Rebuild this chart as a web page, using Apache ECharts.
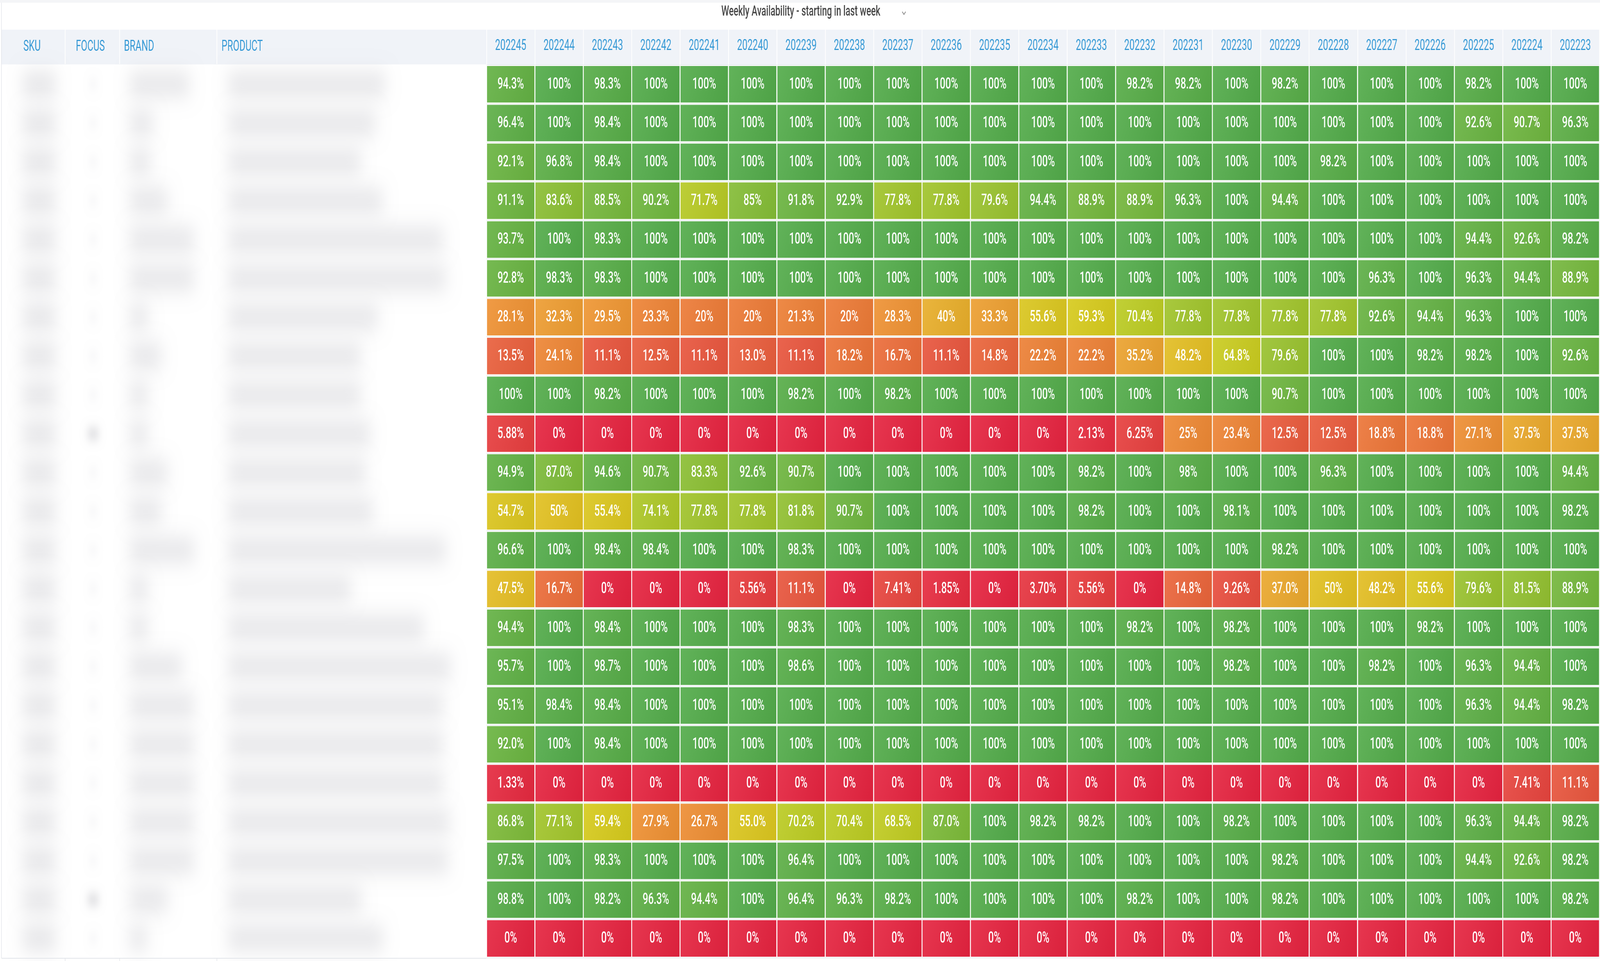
<!DOCTYPE html>
<html>
<head>
<meta charset="utf-8">
<script src="https://cdn.jsdelivr.net/npm/echarts@6/dist/echarts.min.js"></script>
<style>
html,body{margin:0;padding:0;background:#ffffff;overflow:hidden;}
#chart{width:6581px;height:2461px;transform-origin:0 0;}
</style>
</head>
<body>
<div id="chart"></div>
<script>
// ---------- data ----------
const chartTitle = 'Weekly Availability - starting in last week';
const leftHeaders = ['SKU', 'FOCUS', 'BRAND', 'PRODUCT'];
const weeks = ['202245','202244','202243','202242','202241','202240','202239','202238','202237','202236','202235','202234',
               '202233','202232','202231','202230','202229','202228','202227','202226','202225','202224','202223'];

// availability per product row (percent, as displayed)
const row01 = ['94.3','100','98.3','100','100','100','100','100','100','100','100','100','100','98.2','98.2','100','98.2','100','100','100','98.2','100','100'];
const row02 = ['96.4','100','98.4','100','100','100','100','100','100','100','100','100','100','100','100','100','100','100','100','100','92.6','90.7','96.3'];
const row03 = ['92.1','96.8','98.4','100','100','100','100','100','100','100','100','100','100','100','100','100','100','98.2','100','100','100','100','100'];
const row04 = ['91.1','83.6','88.5','90.2','71.7','85','91.8','92.9','77.8','77.8','79.6','94.4','88.9','88.9','96.3','100','94.4','100','100','100','100','100','100'];
const row05 = ['93.7','100','98.3','100','100','100','100','100','100','100','100','100','100','100','100','100','100','100','100','100','94.4','92.6','98.2'];
const row06 = ['92.8','98.3','98.3','100','100','100','100','100','100','100','100','100','100','100','100','100','100','100','96.3','100','96.3','94.4','88.9'];
const row07 = ['28.1','32.3','29.5','23.3','20','20','21.3','20','28.3','40','33.3','55.6','59.3','70.4','77.8','77.8','77.8','77.8','92.6','94.4','96.3','100','100'];
const row08 = ['13.5','24.1','11.1','12.5','11.1','13.0','11.1','18.2','16.7','11.1','14.8','22.2','22.2','35.2','48.2','64.8','79.6','100','100','98.2','98.2','100','92.6'];
const row09 = ['100','100','98.2','100','100','100','98.2','100','98.2','100','100','100','100','100','100','100','90.7','100','100','100','100','100','100'];
const row10 = ['5.88','0','0','0','0','0','0','0','0','0','0','0','2.13','6.25','25','23.4','12.5','12.5','18.8','18.8','27.1','37.5','37.5'];
const row11 = ['94.9','87.0','94.6','90.7','83.3','92.6','90.7','100','100','100','100','100','98.2','100','98','100','100','96.3','100','100','100','100','94.4'];
const row12 = ['54.7','50','55.4','74.1','77.8','77.8','81.8','90.7','100','100','100','100','98.2','100','100','98.1','100','100','100','100','100','100','98.2'];
const row13 = ['96.6','100','98.4','98.4','100','100','98.3','100','100','100','100','100','100','100','100','100','98.2','100','100','100','100','100','100'];
const row14 = ['47.5','16.7','0','0','0','5.56','11.1','0','7.41','1.85','0','3.70','5.56','0','14.8','9.26','37.0','50','48.2','55.6','79.6','81.5','88.9'];
const row15 = ['94.4','100','98.4','100','100','100','98.3','100','100','100','100','100','100','98.2','100','98.2','100','100','100','98.2','100','100','100'];
const row16 = ['95.7','100','98.7','100','100','100','98.6','100','100','100','100','100','100','100','100','98.2','100','100','98.2','100','96.3','94.4','100'];
const row17 = ['95.1','98.4','98.4','100','100','100','100','100','100','100','100','100','100','100','100','100','100','100','100','100','96.3','94.4','98.2'];
const row18 = ['92.0','100','98.4','100','100','100','100','100','100','100','100','100','100','100','100','100','100','100','100','100','100','100','100'];
const row19 = ['1.33','0','0','0','0','0','0','0','0','0','0','0','0','0','0','0','0','0','0','0','0','7.41','11.1'];
const row20 = ['86.8','77.1','59.4','27.9','26.7','55.0','70.2','70.4','68.5','87.0','100','98.2','98.2','100','100','98.2','100','100','100','100','96.3','94.4','98.2'];
const row21 = ['97.5','100','98.3','100','100','100','96.4','100','100','100','100','100','100','100','100','100','98.2','100','100','100','94.4','92.6','98.2'];
const row22 = ['98.8','100','98.2','96.3','94.4','100','96.4','96.3','98.2','100','100','100','100','98.2','100','100','98.2','100','100','100','100','100','98.2'];
const row23 = ['0','0','0','0','0','0','0','0','0','0','0','0','0','0','0','0','0','0','0','0','0','0','0'];

const rows = [row01,row02,row03,row04,row05,row06,row07,row08,row09,row10,row11,row12,
              row13,row14,row15,row16,row17,row18,row19,row20,row21,row22,row23];

// masked (blurred) text lengths in the left columns
const brandMask   = [300,150,140,210,320,320,130,185,130,130,210,185,320,130,130,270,320,320,320,320,320,210,125];
const productMask = [700,660,600,690,940,950,670,600,600,640,620,650,950,560,860,970,940,940,940,966,960,603,692];
const focusMask   = [30,30,30,30,30,30,30,30,30,60,30,30,30,30,30,30,30,30,30,30,30,60,30];

// ---------- build ----------
const DESIGN_W = 6581, DESIGN_H = 2461;
const el = document.getElementById('chart');
// the browser window may be narrower than the design size: fit the whole design into it
const sx = Math.min(1, (window.innerWidth || DESIGN_W) / DESIGN_W);
const sy = Math.min(1, (window.innerHeight || DESIGN_H) / DESIGN_H);
el.style.transform = 'scale(' + sx + ',' + sy + ')';

const cells = [];
const cellText = [];
rows.forEach(function (r, ri) {
  r.forEach(function (v, ci) {
    cells.push([ci, ri, parseFloat(v)]);
    cellText.push(v + '%');
  });
});
const rowIds = rows.map(function (_, i) { return String(i + 1); });

function parseColor(c) {
  if (c[0] === '#') {
    let h = c.slice(1);
    if (h.length === 3) h = h.split('').map(function (x) { return x + x; }).join('');
    return [parseInt(h.slice(0,2),16), parseInt(h.slice(2,4),16), parseInt(h.slice(4,6),16)];
  }
  const m = c.match(/[\d.]+/g);
  return [+m[0], +m[1], +m[2]];
}
function mix(c, t, k) {
  const a = parseColor(c), b = parseColor(t);
  return 'rgb(' + a.map(function (v, i) { return Math.round(v + (b[i] - v) * k); }).join(',') + ')';
}

const FONT = 'Roboto, "Noto Sans", sans-serif';
const HEADER_BLUE = '#379ad6';
const GRID_LEFT = 2001, GRID_TOP = 166, GRID_W = 4578, GRID_H = 2287;
const HEADER_TOP = 76, HEADER_BOTTOM = 164;
const OFF = 9000; // blurred masks: shape drawn off to the left, only its soft shadow lands in place

const chart = echarts.init(el, null, { width: DESIGN_W, height: DESIGN_H });

const option = {
  backgroundColor: '#ffffff',
  animation: false,
  title: {
    text: chartTitle,
    left: 2967, top: 13, padding: 0,
    textStyle: { fontFamily: FONT, fontSize: 36, fontWeight: 500, color: '#474747' }
  },
  grid: [
    { left: GRID_LEFT, top: GRID_TOP, width: GRID_W, height: GRID_H },
    { left: 6, top: GRID_TOP, width: GRID_LEFT - 6, height: GRID_H }
  ],
  xAxis: [
    {
      type: 'category', gridIndex: 0, data: weeks, position: 'top',
      axisLine: { show: false },
      axisTick: { show: true, length: HEADER_BOTTOM - HEADER_TOP + 2, lineStyle: { color: '#ffffff', width: 3 } },
      axisLabel: { interval: 0, margin: 48, verticalAlign: 'middle', color: HEADER_BLUE, fontSize: 38, fontFamily: FONT },
      splitLine: { show: false }
    },
    { type: 'value', gridIndex: 1, min: 0, max: GRID_LEFT - 6, show: false }
  ],
  yAxis: [
    {
      type: 'category', gridIndex: 0, data: rowIds, inverse: true,
      axisLine: { show: false }, axisTick: { show: false }, axisLabel: { show: false },
      splitLine: { show: true, interval: 0, lineStyle: { color: '#e6ebee', width: 2 } }
    },
    { type: 'category', gridIndex: 1, data: rowIds, inverse: true, show: false }
  ],
  visualMap: {
    type: 'continuous', show: false, min: 0, max: 100, dimension: 2, seriesIndex: 0,
    inRange: { color: ['#e5233f','#e8503e','#ec7a36','#ee9632','#e8ae2a','#e1c020','#d5cb1c','#bccb22','#98c22e','#70b63e','#52ab4a'] }
  },
  series: [
    {
      type: 'custom', name: 'Availability', xAxisIndex: 0, yAxisIndex: 0,
      data: cells, encode: { x: 0, y: 1 },
      renderItem: function (params, api) {
        const c = api.coord([api.value(0), api.value(1)]);
        const s = api.size([1, 1]);
        const col = api.visual('color');
        const x = c[0] - s[0] / 2 + 2, y = c[1] - s[1] / 2 + 3;
        const w = s[0] - 4, h = s[1] - 6;
        return {
          type: 'group',
          children: [
            {
              type: 'rect', shape: { x: x, y: y, width: w, height: h },
              style: {
                fill: new echarts.graphic.LinearGradient(0, 0, 1, 1, [
                  { offset: 0, color: mix(col, '#ffffff', 0.09) },
                  { offset: 1, color: mix(col, '#000000', 0.05) }
                ])
              }
            },
            {
              type: 'text',
              style: {
                x: c[0], y: c[1] + 1, text: cellText[params.dataIndex],
                fill: '#ffffff', fontSize: 40, fontWeight: 500, fontFamily: FONT,
                align: 'center', verticalAlign: 'middle'
              }
            }
          ]
        };
      }
    },
    {
      type: 'custom', name: 'masked', xAxisIndex: 1, yAxisIndex: 1, silent: true,
      data: rows.map(function (_, i) { return [0, i]; }), encode: { x: 0, y: 1 },
      renderItem: function (params, api) {
        const i = params.dataIndex;
        const yc = api.coord([0, i])[1];
        const blob = function (startX, len, color, hh, blur) {
          const x0 = api.coord([startX, i])[0];
          const x1 = api.coord([startX + len, i])[0];
          const pad = blur * 0.4;
          return {
            type: 'rect',
            shape: { x: x0 + pad - OFF, y: yc - hh / 2, width: Math.max(x1 - x0 - 2 * pad, 4), height: hh, r: hh / 2 },
            style: { fill: '#000', shadowBlur: blur, shadowColor: color, shadowOffsetX: OFF }
          };
        };
        const strongFocus = focusMask[i] > 40;
        return {
          type: 'group',
          children: [
            blob(60, 190, '#d8d8dc', 40, 60),
            blob(372 - focusMask[i] / 2, focusMask[i] + 10, strongFocus ? '#d2d2d6' : '#eaeaed', 24, 30),
            blob(500, brandMask[i], '#dadade', 40, 60),
            blob(905, productMask[i], '#dadade', 40, 60)
          ]
        };
      }
    }
  ],
  graphic: [
    { type: 'rect', z: -10, shape: { x: 0, y: 0, width: 6581, height: 7 }, style: { fill: '#f4f5f7' } },
    { type: 'rect', z: -10, shape: { x: 6, y: HEADER_TOP, width: 6575, height: HEADER_BOTTOM - HEADER_TOP + 1 }, style: { fill: '#f0f3f8' } },
    { type: 'line', z: 5, shape: { x1: 268, y1: HEADER_TOP, x2: 268, y2: HEADER_BOTTOM }, style: { stroke: '#ffffff', lineWidth: 3 } },
    { type: 'line', z: 5, shape: { x1: 492, y1: HEADER_TOP, x2: 492, y2: HEADER_BOTTOM }, style: { stroke: '#ffffff', lineWidth: 3 } },
    { type: 'line', z: 5, shape: { x1: 892, y1: HEADER_TOP, x2: 892, y2: HEADER_BOTTOM }, style: { stroke: '#ffffff', lineWidth: 3 } },
    { type: 'line', z: 5, shape: { x1: 6, y1: 7, x2: 6, y2: 2454 }, style: { stroke: '#e2e5ea', lineWidth: 2 } },
    { type: 'line', z: 5, shape: { x1: 6, y1: 2454, x2: GRID_LEFT, y2: 2454 }, style: { stroke: '#e2e5ea', lineWidth: 2 } },
    { type: 'line', z: 5, shape: { x1: 268, y1: 2454, x2: 268, y2: 2461 }, style: { stroke: '#e2e5ea', lineWidth: 2 } },
    { type: 'line', z: 5, shape: { x1: 492, y1: 2454, x2: 492, y2: 2461 }, style: { stroke: '#e2e5ea', lineWidth: 2 } },
    { type: 'line', z: 5, shape: { x1: 892, y1: 2454, x2: 892, y2: 2461 }, style: { stroke: '#e2e5ea', lineWidth: 2 } },
    { type: 'polyline', z: 5, shape: { points: [[3711, 30], [3718, 37], [3725, 30]] }, style: { stroke: '#8a8a8a', lineWidth: 2.5, fill: null } },
    { type: 'text', z: 5, style: { x: 96,  y: 120, text: leftHeaders[0], fill: HEADER_BLUE, fontSize: 38, fontFamily: FONT, verticalAlign: 'middle' } },
    { type: 'text', z: 5, style: { x: 312, y: 120, text: leftHeaders[1], fill: HEADER_BLUE, fontSize: 38, fontFamily: FONT, verticalAlign: 'middle' } },
    { type: 'text', z: 5, style: { x: 510, y: 120, text: leftHeaders[2], fill: HEADER_BLUE, fontSize: 38, fontFamily: FONT, verticalAlign: 'middle' } },
    { type: 'text', z: 5, style: { x: 911, y: 120, text: leftHeaders[3], fill: HEADER_BLUE, fontSize: 38, fontFamily: FONT, verticalAlign: 'middle' } }
  ]
};
chart.setOption(option);
</script>
</body>
</html>
